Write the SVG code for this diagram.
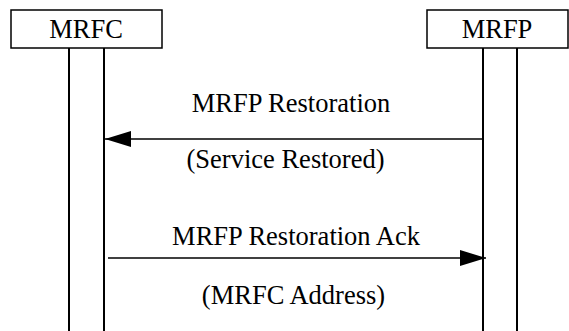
<svg xmlns="http://www.w3.org/2000/svg" width="569" height="331" viewBox="0 0 569 331">
<style>
.box{fill:#fff;stroke:#000;stroke-width:1.5}
.life{stroke:#000;stroke-width:2;fill:none}
.msg{stroke:#000;stroke-width:1.5;fill:none}
text{font-family:"Liberation Serif","Times New Roman",serif;font-size:26.5px;fill:#000;text-anchor:middle}
</style>
<defs>
<marker id="ah" markerWidth="26" markerHeight="16" refX="26" refY="8" orient="auto" markerUnits="userSpaceOnUse">
<path d="M0,0 L26,8 L0,16 Z" fill="#000"/>
</marker>
</defs>
<rect width="569" height="331" fill="#fff"/>
<g id="MRFC">
<rect class="box" x="11" y="10" width="151" height="38"/>
<text x="86" y="38">MRFC</text>
<line class="life" x1="69" y1="48" x2="69" y2="331"/>
<line class="life" x1="104" y1="48" x2="104" y2="331"/>
</g>
<g id="MRFP">
<rect class="box" x="427" y="10" width="141" height="38"/>
<text x="497" y="38">MRFP</text>
<line class="life" x1="483" y1="48" x2="483" y2="331"/>
<line class="life" x1="517" y1="48" x2="517" y2="331"/>
</g>
<g id="connectors">
<line class="msg" x1="483" y1="139" x2="105" y2="139" marker-end="url(#ah)"/>
<text x="291" y="112">MRFP Restoration</text>
<text x="285.5" y="168">(Service Restored)</text>
<line class="msg" x1="108" y1="258" x2="486" y2="258" marker-end="url(#ah)"/>
<text x="296" y="245">MRFP Restoration Ack</text>
<text x="293.5" y="304">(MRFC Address)</text>
</g>
</svg>
